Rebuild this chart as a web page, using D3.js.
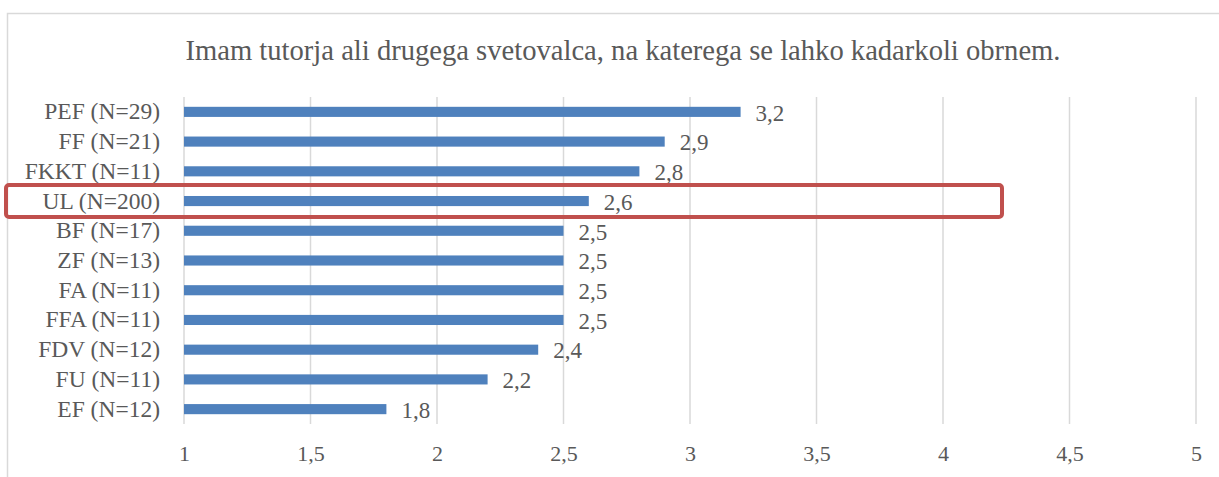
<!DOCTYPE html>
<html>
<head>
<meta charset="utf-8">
<script src="https://cdn.jsdelivr.net/npm/d3@7"></script>
<style>
  body { margin: 0; background: #fff; }
  text { font-family: 'Liberation Serif', 'DejaVu Serif', serif; fill: #595959; }
</style>
</head>
<body>
<svg></svg>
<script>
const WIDTH = 1219
const HEIGHT = 477

const title = 'Imam tutorja ali drugega svetovalca, na katerega se lahko kadarkoli obrnem.'
const categories = ['PEF (N=29)', 'FF (N=21)', 'FKKT (N=11)', 'UL (N=200)', 'BF (N=17)', 'ZF (N=13)',
  'FA (N=11)', 'FFA (N=11)', 'FDV (N=12)', 'FU (N=11)', 'EF (N=12)']
const values = [3.2, 2.9, 2.8, 2.6, 2.5, 2.5, 2.5, 2.5, 2.4, 2.2, 1.8]
const tickValues = [1, 1.5, 2, 2.5, 3, 3.5, 4, 4.5, 5]
const highlighted = 'UL (N=200)'

const fmt = v => String(v).replace('.', ',')

const svg = d3.select('svg')
  .attr('width', WIDTH)
  .attr('height', HEIGHT)

// chart frame (bottom and right are outside the picture)
svg.append('rect')
  .attr('x', 7.5)
  .attr('y', 13.5)
  .attr('width', WIDTH + 20)
  .attr('height', HEIGHT)
  .attr('fill', 'none')
  .attr('stroke', '#d9d9d9')
  .attr('stroke-width', 1.5)

svg.append('text')
  .attr('x', 623)
  .attr('y', 60)
  .attr('text-anchor', 'middle')
  .style('font-size', '28.6px')
  .text(title)

const x = d3.scaleLinear()
  .domain([1, 5])
  .range([184, 1196])

const y = d3.scaleBand()
  .domain(categories)
  .range([97, 424])
  .paddingInner(0.66)
  .paddingOuter(0.33)

// vertical gridlines
svg.append('g')
  .selectAll('line')
  .data(tickValues)
  .enter()
  .append('line')
  .attr('x1', d => x(d))
  .attr('x2', d => x(d))
  .attr('y1', 97)
  .attr('y2', 424)
  .attr('stroke', '#d9d9d9')
  .attr('stroke-width', 1.5)

const axisX = d3.axisBottom(x)
  .tickValues(tickValues)
  .tickFormat(fmt)
  .tickSize(0)
  .tickPadding(21)

const axisXGroup = svg.append('g')
  .attr('transform', 'translate(0, 424)')
  .call(axisX)
axisXGroup.select('.domain').remove()
axisXGroup.selectAll('text')
  .style('font-size', '22px')
  .attr('fill', '#595959')

const axisY = d3.axisLeft(y)
  .tickSize(0)
  .tickPadding(24)

const axisYGroup = svg.append('g')
  .attr('transform', 'translate(184, 0)')
  .call(axisY)
axisYGroup.select('.domain').remove()
axisYGroup.selectAll('text')
  .style('font-size', '23.5px')
  .attr('fill', '#595959')

svg.append('g')
  .selectAll('rect')
  .data(values)
  .enter()
  .append('rect')
  .attr('x', x(1))
  .attr('y', (d, i) => y(categories[i]))
  .attr('width', d => x(d) - x(1))
  .attr('height', y.bandwidth())
  .attr('fill', '#4f81bd')

svg.append('g')
  .selectAll('text')
  .data(values)
  .enter()
  .append('text')
  .attr('x', d => x(d) + 15)
  .attr('y', (d, i) => y(categories[i]) + y.bandwidth() / 2)
  .attr('dy', '0.38em')
  .style('font-size', '23px')
  .text(fmt)

// highlight frame around UL row
svg.append('rect')
  .attr('x', 6)
  .attr('y', y(highlighted) + y.bandwidth() / 2 - 16)
  .attr('width', 996)
  .attr('height', 32)
  .attr('rx', 3)
  .attr('fill', 'none')
  .attr('stroke', '#c0504d')
  .attr('stroke-width', 4)
</script>
</body>
</html>
